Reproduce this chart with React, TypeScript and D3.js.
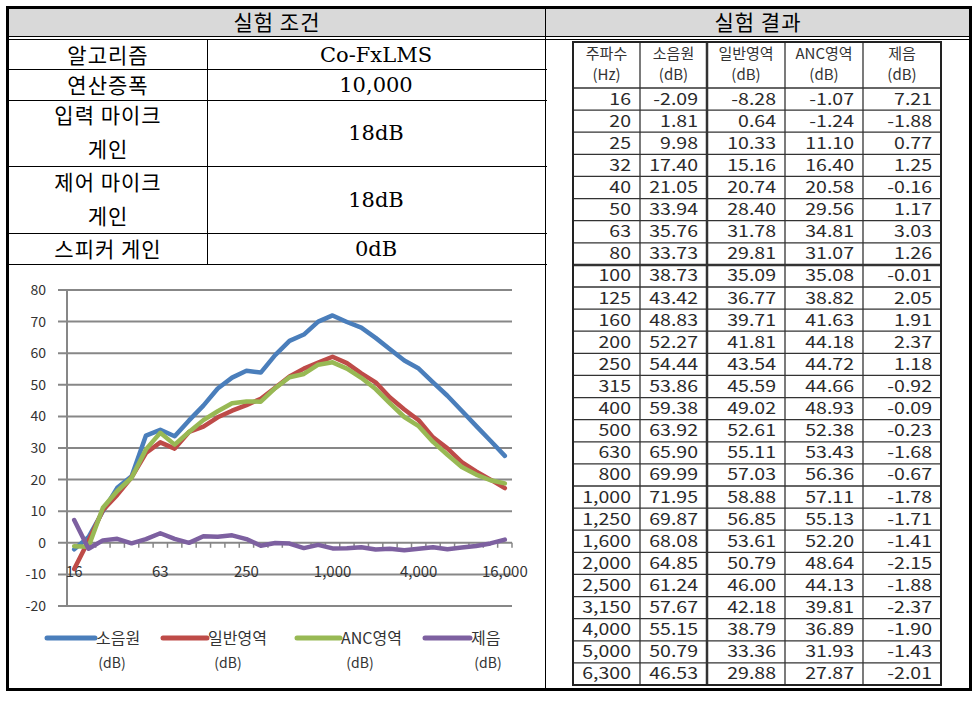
import React from 'react'
import * as d3 from 'd3'

// 실험 조건
const condLabels = [['알고리즘'], ['연산증폭'], ['입력 마이크', '게인'], ['제어 마이크', '게인'], ['스피커 게인']]
const condValues = ['Co-FxLMS', '10,000', '18dB', '18dB', '0dB']

// 실험 결과 (table)
const headTop = ['주파수', '소음원', '일반영역', 'ANC영역', '제음']
const headBottom = ['(Hz)', '(dB)', '(dB)', '(dB)', '(dB)']
const freqs = ['16', '20', '25', '32', '40', '50', '63', '80', '100', '125', '160', '200', '250', '315', '400', '500', '630', '800', '1,000', '1,250', '1,600', '2,000', '2,500', '3,150', '4,000', '5,000', '6,300']
const srcDb = [-2.09, 1.81, 9.98, 17.40, 21.05, 33.94, 35.76, 33.73, 38.73, 43.42, 48.83, 52.27, 54.44, 53.86, 59.38, 63.92, 65.90, 69.99, 71.95, 69.87, 68.08, 64.85, 61.24, 57.67, 55.15, 50.79, 46.53]
const normDb = [-8.28, 0.64, 10.33, 15.16, 20.74, 28.40, 31.78, 29.81, 35.09, 36.77, 39.71, 41.81, 43.54, 45.59, 49.02, 52.61, 55.11, 57.03, 58.88, 56.85, 53.61, 50.79, 46.00, 42.18, 38.79, 33.36, 29.88]
const ancDb = [-1.07, -1.24, 11.10, 16.40, 20.58, 29.56, 34.81, 31.07, 35.08, 38.82, 41.63, 44.18, 44.72, 44.66, 48.93, 52.38, 53.43, 56.36, 57.11, 55.13, 52.20, 48.64, 44.13, 39.81, 36.89, 31.93, 27.87]
const redDb = [7.21, -1.88, 0.77, 1.25, -0.16, 1.17, 3.03, 1.26, -0.01, 2.05, 1.91, 2.37, 1.18, -0.92, -0.09, -0.23, -1.68, -0.67, -1.78, -1.71, -1.41, -2.15, -1.88, -2.37, -1.90, -1.43, -2.01]

// chart goes further than the table
const tailFreqs = ['8,000', '10,000', '12,500', '16,000']
const srcTail = [41.8, 37.0, 32.3, 27.5]
const normTail = [25.5, 22.6, 20.0, 17.3]
const ancTail = [24.0, 21.6, 19.8, 18.8]
const redTail = [-1.5, -1.0, -0.2, 1.0]

const yTicks = [-20, -10, 0, 10, 20, 30, 40, 50, 60, 70, 80]
const xLabels = ['16', '63', '250', '1,000', '4,000', '16,000']
const seriesNames = ['소음원', '일반영역', 'ANC영역', '제음']
const seriesColors = ['#4a7ebb', '#be4b48', '#98b954', '#7d60a0']

const kr = "'Noto Sans CJK KR', sans-serif"
const serif = "'DejaVu Serif', serif"

export default function App() {
  const chartFreqs = freqs.concat(tailFreqs)
  const series = [
    srcDb.concat(srcTail),
    normDb.concat(normTail),
    ancDb.concat(ancTail),
    redDb.concat(redTail),
  ]

  const x = d3.scalePoint<string>().domain(chartFreqs).range([67, 512]).padding(0.5)
  const step = x.step()
  const y = d3.scaleLinear().domain([-20, 80]).range([606, 290])
  const line = d3.line<number>()
    .x((_, i) => x(chartFreqs[i]) as number)
    .y(d => y(d))

  // left table rows
  const condRowEdges = [40, 69, 100, 166, 233, 264]
  // right table
  const colEdges = [573, 640, 707, 785, 863, 941]
  const rows = d3.scaleBand<string>().domain(freqs).range([88, 685])
  const tableVals = freqs.map((f, i) => [f, srcDb[i].toFixed(2), normDb[i].toFixed(2), ancDb[i].toFixed(2), redDb[i].toFixed(2)])

  const legendItems = [
    { x0: 47, x1: 95, tx: 96, dx: 112 },
    { x0: 163, x1: 207, tx: 208, dx: 228 },
    { x0: 297, x1: 340, tx: 341, dx: 360 },
    { x0: 425, x1: 470, tx: 471, dx: 488 },
  ]

  return (
    <svg width={980} height={702} style={{ position: 'absolute', left: 0, top: 0, background: '#fff' }}>
      <rect x={0} y={0} width={980} height={702} fill="#fff" />
      {/* header band */}
      <rect x={9} y={9} width={960} height={27} fill="#d9d9d9" />
      <line x1={9} x2={969} y1={36.5} y2={36.5} stroke="#000" />
      <line x1={9} x2={969} y1={39.5} y2={39.5} stroke="#000" />
      <line x1={545.5} x2={545.5} y1={9} y2={688} stroke="#000" />
      <text x={277} y={30} textAnchor="middle" fontFamily={kr} fontSize={21} letterSpacing={1}>실험 조건</text>
      <text x={758} y={30} textAnchor="middle" fontFamily={kr} fontSize={21} letterSpacing={1}>실험 결과</text>

      {/* 실험 조건 table */}
      {condRowEdges.slice(1).map(e => (
        <line key={e} x1={9} x2={547} y1={e + 0.5} y2={e + 0.5} stroke="#000" />
      ))}
      <line x1={207.5} x2={207.5} y1={40} y2={264} stroke="#000" />
      {condLabels.map((lab, i) => {
        const top = condRowEdges[i], bot = condRowEdges[i + 1]
        const mid = (top + bot) / 2
        return (
          <g key={i}>
            {lab.length === 1 ? (
              <text x={108} y={mid + 8} textAnchor="middle" fontFamily={kr} fontSize={21} letterSpacing={1}>{lab[0]}</text>
            ) : (
              <>
                <text x={108} y={mid - 10} textAnchor="middle" fontFamily={kr} fontSize={21} letterSpacing={1}>{lab[0]}</text>
                <text x={108} y={mid + 24} textAnchor="middle" fontFamily={kr} fontSize={21} letterSpacing={1}>{lab[1]}</text>
              </>
            )}
            <text x={376} y={mid + 7} textAnchor="middle" fontFamily={serif} fontSize={21}>{condValues[i]}</text>
          </g>
        )
      })}

      {/* chart */}
      <g>
        {yTicks.map(t => (
          <g key={t}>
            <line x1={58} x2={512} y1={y(t)} y2={y(t)} stroke="#878787" strokeWidth={2} />
            <text x={46} y={y(t) + 5} textAnchor="end" fontFamily={kr} fontSize={14} fill="#333">{t}</text>
          </g>
        ))}
        <line x1={67} x2={67} y1={y(80)} y2={y(-20)} stroke="#878787" strokeWidth={2} />
        {chartFreqs.map((f, i) => (
          <line key={f} x1={67 + step * (i + 1)} x2={67 + step * (i + 1)} y1={y(0)} y2={y(0) + 5} stroke="#878787" strokeWidth={1.5} />
        ))}
        {xLabels.map(l => (
          <text key={l} x={x(l)} y={577} textAnchor="middle" fontFamily={kr} fontSize={15} fill="#333">{l}</text>
        ))}
        {series.map((s, i) => (
          <path key={i} d={line(s) || ''} fill="none" stroke={seriesColors[i]} strokeWidth={4.5} strokeLinejoin="round" strokeLinecap="round" />
        ))}
        {legendItems.map((it, i) => (
          <g key={i}>
            <line x1={it.x0} x2={it.x1} y1={638} y2={638} stroke={seriesColors[i]} strokeWidth={5} strokeLinecap="round" />
            <text x={it.tx} y={644} fontFamily={kr} fontSize={16} fill="#333">{seriesNames[i]}</text>
            <text x={it.dx} y={668} textAnchor="middle" fontFamily={kr} fontSize={14} fill="#333">(dB)</text>
          </g>
        ))}
      </g>

      {/* 실험 결과 table */}
      <g>
        {headTop.map((h, j) => {
          const cx = (colEdges[j] + colEdges[j + 1]) / 2
          return (
            <g key={h}>
              <text x={cx} y={59} textAnchor="middle" fontFamily={kr} fontSize={15} fill="#333">{h}</text>
              <text x={cx} y={80} textAnchor="middle" fontFamily={kr} fontSize={15} fill="#333">{headBottom[j]}</text>
            </g>
          )
        })}
        {tableVals.map((r, i) => {
          const ry = (rows(freqs[i]) as number) + rows.bandwidth() / 2 + 5.5
          return r.map((v, j) => (
            <text key={i + '-' + j} transform={`translate(${colEdges[j + 1] - 9},${ry}) scale(1.22,1)`} textAnchor="end" fontFamily={kr} fontSize={16} fill="#2a2a2a">{v}</text>
          ))
        })}
        {freqs.map((f, i) => {
          const ry = (rows(f) as number)
          return <line key={f} x1={573} x2={941} y1={ry} y2={ry} stroke="#333" strokeWidth={i === 8 ? 2.5 : 1.3} />
        })}
        {colEdges.slice(1, -1).map(c => (
          <line key={c} x1={c} x2={c} y1={42} y2={685} stroke="#333" strokeWidth={c === 707 ? 2.5 : 1.3} />
        ))}
        <rect x={573} y={42} width={368} height={643} fill="none" stroke="#222" strokeWidth={2} />
      </g>

      {/* outer frame */}
      <rect x={7.5} y={7.5} width={963} height={682} fill="none" stroke="#000" strokeWidth={3} />
    </svg>
  )
}
